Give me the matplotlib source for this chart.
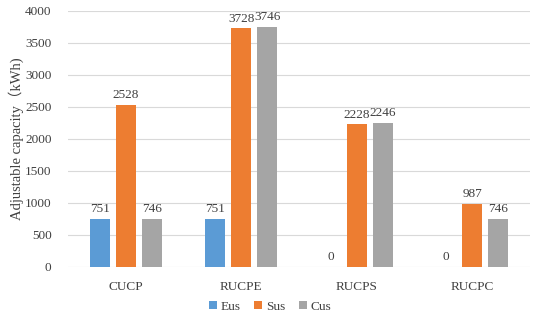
import matplotlib.pyplot as plt
import numpy as np

plt.rcParams['font.family'] = ['Liberation Serif', 'Noto Sans CJK SC', 'DejaVu Serif']

categories = ['CUCP', 'RUCPE', 'RUCPS', 'RUCPC']
eus = [751, 751, 0, 0]
sus = [2528, 3728, 2228, 987]
cus = [746, 3746, 2246, 746]

series = [('Eus', eus, '#5B9BD5'), ('Sus', sus, '#ED7D31'), ('Cus', cus, '#A5A5A5')]

fig = plt.figure(figsize=(5.33, 3.22), dpi=100)
ax = fig.add_axes([0.128, 0.171, 0.866, 0.795])

x = np.arange(len(categories))
w = 0.175
step = 0.225
for i, (name, vals, col) in enumerate(series):
    pos = x + (i - 1) * step
    bars = ax.bar(pos, vals, w, color=col, label=name, zorder=3)
    for b, v in zip(bars, vals):
        ax.text(b.get_x() + b.get_width() / 2, v + 60, str(v),
                ha='center', va='bottom', fontsize=9.5, color='#404040')

ax.set_xlim(-0.5, 3.5)
ax.set_ylim(0, 4000)
ax.set_yticks(range(0, 4001, 500))
ax.set_xticks(x)
ax.set_xticklabels(categories)
ax.tick_params(axis='both', length=0, labelsize=9.5, colors='#404040')
ax.tick_params(axis='x', pad=10)
ax.tick_params(axis='y', pad=12)
ax.grid(axis='y', color='#D9D9D9', linewidth=0.8, zorder=0)
for s in ax.spines.values():
    s.set_visible(False)
ax.set_ylabel('Adjustable capacity（kWh)', fontsize=10.5, color='#404040')
ax.yaxis.set_label_coords(-0.095, 0.5)

fig.legend(loc='center', bbox_to_anchor=(0.507, 0.047), ncol=3, frameon=False,
           fontsize=9.5, handlelength=0.6, handleheight=0.6, handletextpad=0.3,
           columnspacing=1.0, labelcolor='#404040', borderaxespad=0, borderpad=0)

fig.savefig('out.png', dpi=100)
